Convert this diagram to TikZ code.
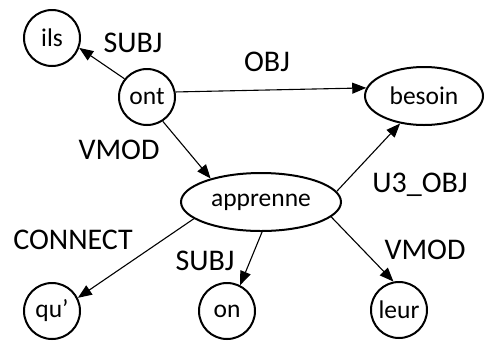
\documentclass[tikz,border=0pt]{standalone}
\usepackage{fontspec}
\setmainfont{Carlito}
\usetikzlibrary{arrows.meta,shapes.geometric}
\tikzset{
  >={Triangle[length=14pt,width=11pt]},
  wordstate/.style={
    circle,draw,line width=2pt,minimum size=56pt,inner sep=0pt,
    font=\fontsize{25.5}{30}\selectfont
  },
  wordell/.style={
    ellipse,draw,line width=2pt,inner sep=0pt,
    font=\fontsize{25.5}{30}\selectfont
  },
  deprel/.style={draw,->,line width=1.1pt},
  deplbl/.style={font=\fontsize{30}{36}\selectfont}, %relation label
}

\begin{document}
\begin{tikzpicture}[x=1pt,y=-1pt]
  \useasboundingbox (0,0) rectangle (487,341);

  % words
  \node[wordstate] at (52,38) (ils){ils};
  \node[wordstate] at (147,97) (ont){ont};
  \node[wordell,minimum width=118pt,minimum height=58pt] at (424,96) (besoin){besoin};
  \node[wordell,minimum width=160pt,minimum height=58pt] at (261,202) (apprenne){apprenne};
  \node[wordstate] at (52,311) (qu){qu’};
  \node[wordstate] at (227,311) (on){on};
  \node[wordstate] at (399,310) (leur){leur};

  % relations
  \draw[deprel] (ont.141) -- (ils.-20);
  \draw[deprel] (ont.10) -- (besoin.172);
  \draw[deprel] (ont.-57) -- (apprenne.155);
  \draw[deprel] (apprenne.8) -- (besoin.229);
  \draw[deprel] (apprenne.194) -- (qu.27);
  \draw[deprel] (apprenne.-88) -- (on.63);
  \draw[deprel] (apprenne.-12) -- (leur.101);

  % labels
  \node[deplbl] at (133,43) (lsubj){SUBJ};
  \node[deplbl] at (267,62) (lobj){OBJ};
  \node[deplbl] at (119,150) (lvmod){VMOD};
  \node[deplbl] at (420,185) (luobj){U3\_OBJ};
  \node[deplbl] at (73,240) (lconn){CONNECT};
  \node[deplbl] at (205,261) (lsubjb){SUBJ};
  \node[deplbl] at (425,250) (lvmodb){VMOD};
\end{tikzpicture}
\end{document}
